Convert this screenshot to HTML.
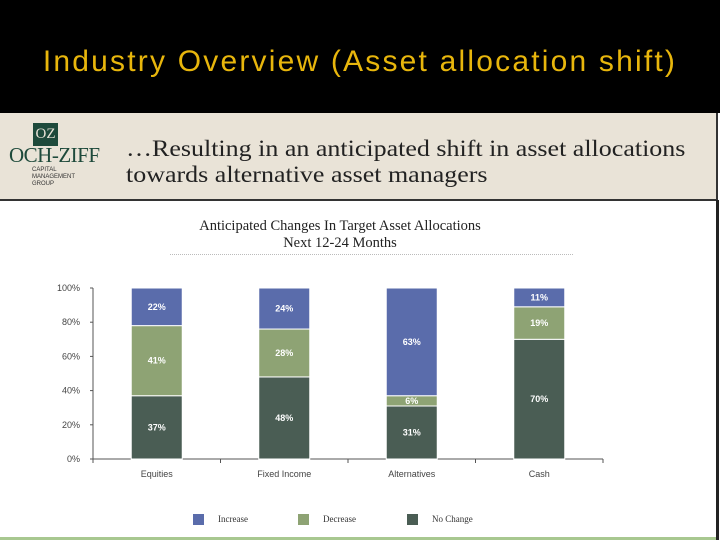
<!DOCTYPE html>
<html><head><meta charset="utf-8"><style>
body{margin:0;width:720px;height:540px;overflow:hidden;background:#fff;position:relative;font-family:"Liberation Sans",sans-serif}
#top{position:absolute;left:0;top:0;width:720px;height:113px;background:#000}
#title{position:absolute;left:0;width:720px;top:45px;text-align:center;color:#e8b60c;font-size:30px;letter-spacing:2.2px}
#hdr{position:absolute;left:0;top:113px;width:716px;height:86px;background:#e9e3d7;border-bottom:2px solid #333;border-right:2px solid #333}
#rline{position:absolute;left:716px;top:200px;width:3px;height:340px;background:#222}
.serif{font-family:"Liberation Serif",serif}
</style></head><body>
<div id="top"><div id="title">Industry Overview (Asset allocation shift)</div></div>
<div id="hdr">
 <div style="position:absolute;left:33px;top:10px;width:25px;height:23px;background:#1e4a3b;color:#e9e3d7;font:15px 'Liberation Serif',serif;text-align:center;line-height:23px">OZ</div>
 <div class="serif" style="position:absolute;left:9px;top:30px;font-size:21px;color:#1e4a3b;letter-spacing:-0.5px">OCH-ZIFF</div>
 <div style="position:absolute;left:32px;top:54px;font-size:6px;line-height:7px;color:#333">CAPITAL<br>MANAGEMENT<br>GROUP</div>
 <div class="serif" style="position:absolute;left:126px;top:23px;font-size:23px;line-height:26px;color:#222;white-space:nowrap;transform:scaleX(1.13);transform-origin:left top">…Resulting in an anticipated shift in asset allocations<br>towards alternative asset managers</div>
</div>
<div id="rline"></div>
<div class="serif" style="position:absolute;left:140px;width:400px;top:218px;text-align:center;font-size:14.5px;line-height:17px;color:#222">Anticipated Changes In Target Asset Allocations<br>Next 12-24 Months</div>
<div style="position:absolute;left:170px;top:254px;width:403px;border-top:1px dotted #bbb"></div>
<div style="position:absolute;left:0;top:537px;width:716px;height:3px;background:#a8c890"></div>
<svg id="chart" width="720" height="540" style="position:absolute;left:0;top:0"></svg>
<script>
const categories=["Equities","Fixed Income","Alternatives","Cash"];
const noChange=[37,48,31,70];
const decrease=[41,28,6,19];
const increase=[22,24,63,11];
const ticks=[0,20,40,60,80,100];
const seriesNames=["Increase","Decrease","No Change"];
const colors={inc:"#5a6cab",dec:"#8ea374",no:"#4a5d54"};
const NS="http://www.w3.org/2000/svg",svg=document.getElementById('chart');
const x0=93,x1=603,yb=459,yt=288;
const y=v=>yb-(v/100)*(yb-yt);
const band=(x1-x0)/categories.length;
const xc=i=>x0+band*(i+0.5);
function mk(t,a,txt){const e=document.createElementNS(NS,t);for(const k in a)e.setAttribute(k,a[k]);if(txt!=null)e.textContent=txt;svg.appendChild(e);return e;}
let ax=mk('line',{x1:x0,y1:yb,x2:x1,y2:yb,stroke:'#555'});


let ay=mk('line',{x1:x0,y1:yt,x2:x0,y2:yb,stroke:'#555'});


ticks.forEach(t=>{
 let l=mk('text',{x:80,y:y(t)+3,'text-anchor':'end','font-size':9,fill:'#444'},t+'%');
 
 
 mk('line',{x1:x0-3,y1:y(t),x2:x0,y2:y(t),stroke:'#555'});
});
for(let i=0;i<=categories.length;i++)mk('line',{x1:x0+band*i,y1:yb,x2:x0+band*i,y2:yb+4,stroke:'#555'});
const bw=51;
categories.forEach((c,i)=>{
 const segs=[[0,noChange[i],colors.no,'no-change'],[noChange[i],noChange[i]+decrease[i],colors.dec,'decrease'],[noChange[i]+decrease[i],noChange[i]+decrease[i]+increase[i],colors.inc,'increase']];
 segs.forEach(s=>{
  let r=mk('rect',{x:xc(i)-bw/2,y:y(s[1]),width:bw,height:y(s[0])-y(s[1]),fill:s[2],stroke:'#fff','stroke-width':1});
  
  
  let v=Math.round(s[1]-s[0]);
  let lb=mk('text',{x:xc(i),y:(y(s[0])+y(s[1]))/2+3,'text-anchor':'middle','font-size':9,'font-weight':'bold',fill:'#fff'},v+'%');
  
  
 });
 let cl=mk('text',{x:xc(i),y:477,'text-anchor':'middle','font-size':9,fill:'#444'},c);
 
 
});
const lx=[193,298,407],lc=[colors.inc,colors.dec,colors.no];
seriesNames.forEach((n,i)=>{
 let r=mk('rect',{x:lx[i],y:514,width:11,height:11,fill:lc[i]});
 
 
 let t=mk('text',{x:lx[i]+25,y:522,'font-size':9,fill:'#333','font-family':'Liberation Serif,serif'},n);
 
 
});
</script>
</body></html>
